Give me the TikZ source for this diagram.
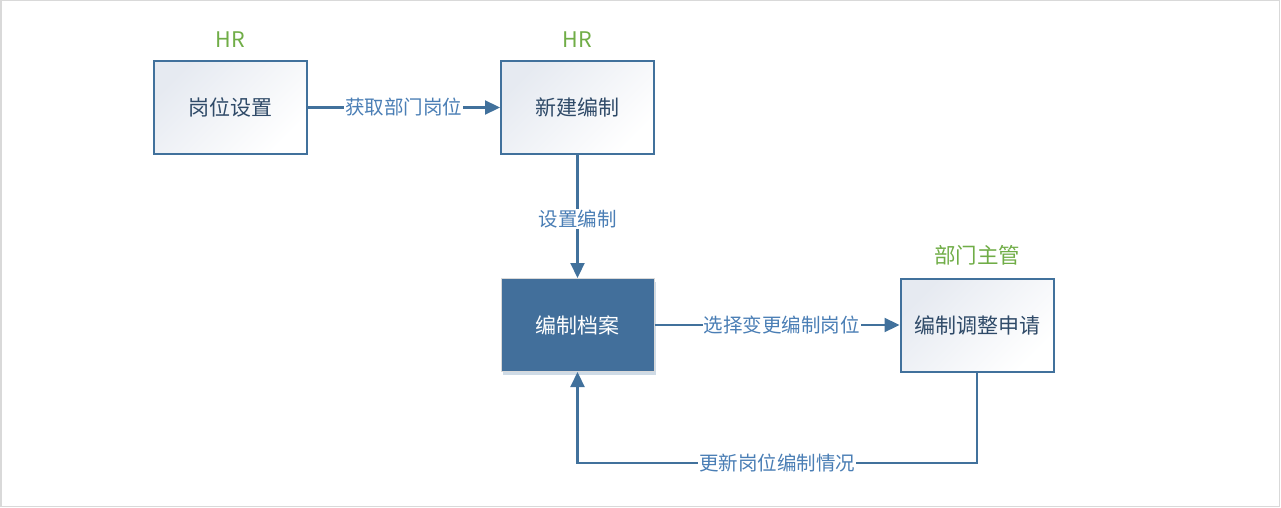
\documentclass[tikz,border=0pt]{standalone}
\usepackage{fontspec}
\setmainfont{Noto Sans CJK SC}
\usetikzlibrary{arrows.meta,shadows,positioning}
\definecolor{lineblue}{HTML}{41719C}
\definecolor{labelblue}{HTML}{4A7EB5}
\definecolor{boxtext}{HTML}{2F4A68}
\definecolor{hrgreen}{HTML}{70AD47}
\definecolor{boxtop}{HTML}{E6EAF1}
\definecolor{fillblue}{HTML}{426F9B}
\tikzset{
  procbox/.style={draw=lineblue, line width=2pt, minimum width=153pt, minimum height=93pt,
    inner sep=0pt, font=\fontsize{21}{24}\selectfont, text=boxtext,
    shading=axis, top color=boxtop, bottom color=white, shading angle=45},
  darkbox/.style={draw=black!15, line width=1pt, fill=fillblue, minimum width=153pt, minimum height=93pt,
    inner sep=0pt, font=\fontsize{21}{24}\selectfont, text=white,
    drop shadow={shadow xshift=2pt, shadow yshift=-3pt, fill=lineblue, opacity=0.25}},
  role/.style={font=\fontsize{21.5}{24}\selectfont, text=hrgreen, inner sep=0pt},
  conn/.style={draw=lineblue, line width=2.2pt, -{Triangle[length=15pt,width=14pt]}},
  lab/.style={fill=white, font=\fontsize{19.5}{22}\selectfont, text=labelblue, inner sep=1pt}
}
\begin{document}
\begin{tikzpicture}[x=1pt,y=-1pt]
\useasboundingbox (0,0) rectangle (1281,508);
\draw[black!15, line width=1.5pt] (0.75,0.75) rectangle (1279.5,506.5);
\node[procbox] (gwsz) at (230,107.5) {岗位设置};
\node[procbox] (xjbz) at (577.5,107.5) {新建编制};
\node[darkbox] (bzda) at (577.5,325) {编制档案};
\node[procbox] (tzsq) at (977,325) {编制调整申请};
\node[role] (hr1) at (230,40) {HR};
\node[role] (hr2) at (577.5,40) {HR};
\node[role] (bmzg) at (977,255) {部门主管};
\coordinate (br) at (977,463);
\coordinate (bl) at (577.5,463);
\draw[conn] (gwsz) -- node[lab] {获取部门岗位} (xjbz);
\draw[conn] (xjbz) -- node[lab, pos=0.52] {设置编制} (bzda);
\draw[conn] (bzda) -- node[lab, pos=0.52] {选择变更编制岗位} (tzsq);
\draw[conn] (tzsq) -- (br) -- node[lab] {更新岗位编制情况} (bl) -- (bzda);
\end{tikzpicture}
\end{document}
